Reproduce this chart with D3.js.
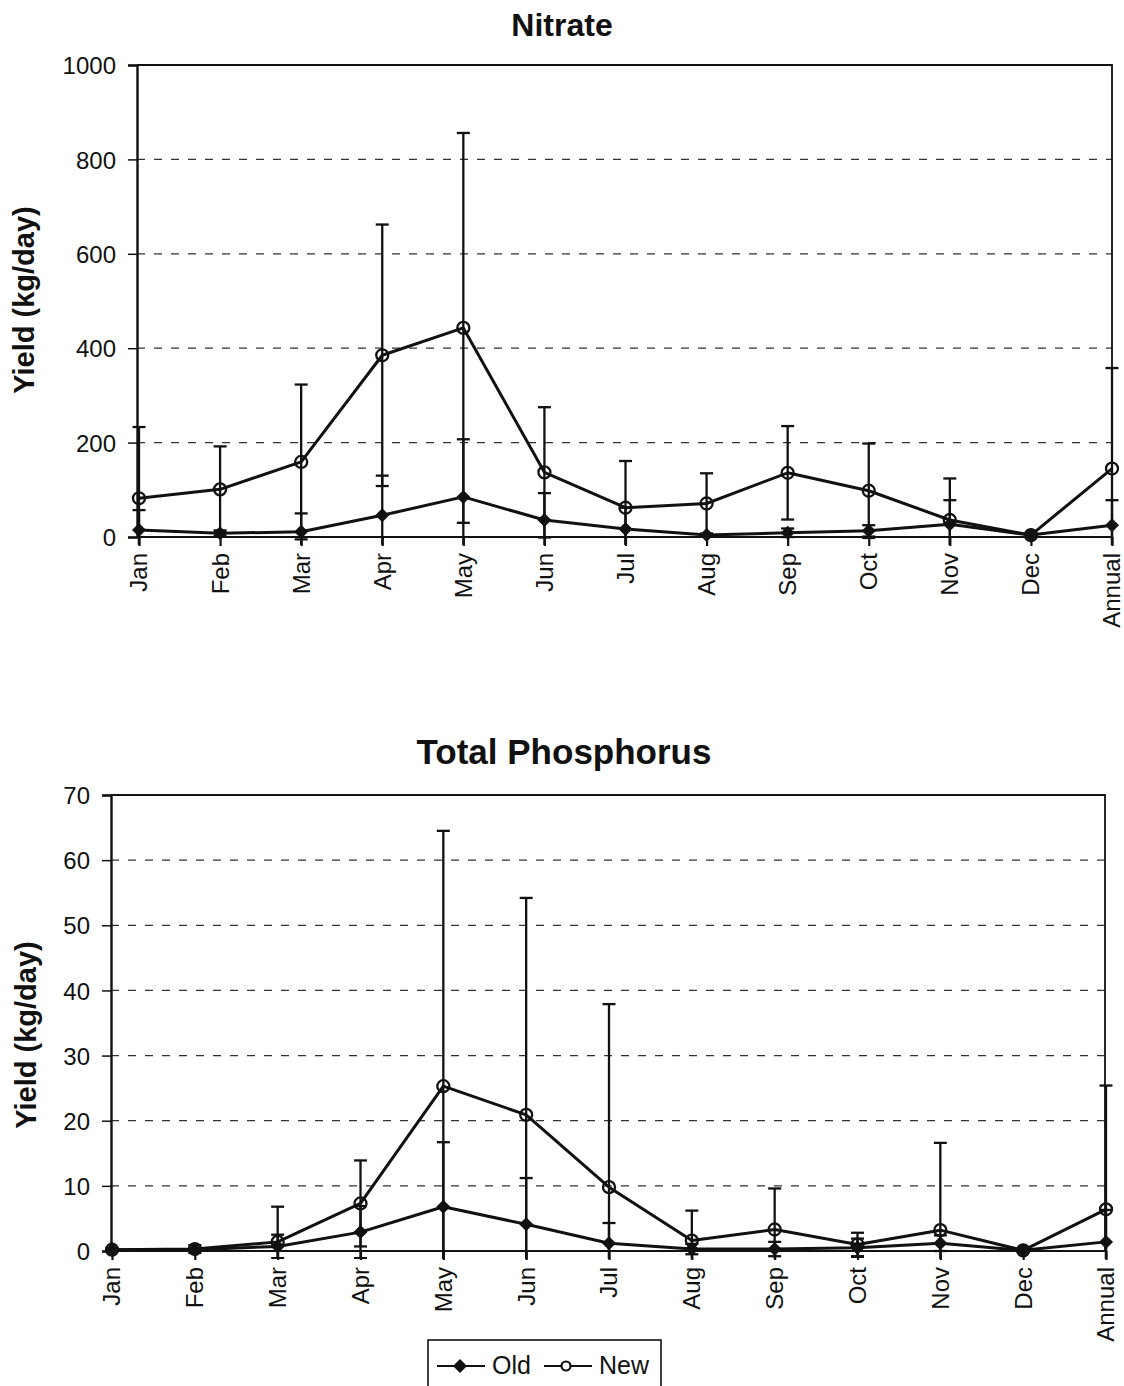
<!DOCTYPE html>
<html>
<head>
<meta charset="utf-8">
<title>Nitrate and Total Phosphorus yields</title>
<script src="https://cdn.jsdelivr.net/npm/d3@7"></script>
<style>
    html, body { margin: 0; padding: 0; background: #fff; }
    svg { display: block; font-family: "Liberation Sans", Arial, sans-serif; }
</style>
</head>
<body>
<svg id="chart" width="1124" height="1386"></svg>
<script>
/*global d3*/

// categories shared by both panels
var months = ["Jan", "Feb", "Mar", "Apr", "May", "Jun", "Jul", "Aug", "Sep", "Oct", "Nov", "Dec", "Annual"];

// Nitrate yield (kg/day), mean and error-bar half width
var nitrateOld = [15, 8, 11, 46, 85, 36, 17, 4, 9, 13, 27, 4, 25];
var nitrateOldErr = [42, 6, 39, 84, 122, 57, 45, 3, 9, 12, 51, 3, 53];
var nitrateNew = [82, 101, 159, 385, 443, 137, 62, 71, 136, 98, 36, 4, 145];
var nitrateNewErr = [151, 91, 164, 277, 413, 138, 99, 64, 99, 100, 88, 4, 213];
var nitrateTicks = [0, 200, 400, 600, 800, 1000];

// Total phosphorus yield (kg/day), mean and error-bar half width
var phosOld = [0.2, 0.2, 0.7, 2.9, 6.8, 4.1, 1.2, 0.3, 0.3, 0.5, 1.2, 0.1, 1.4];
var phosOldErr = [0.1, 0.2, 1.8, 4.0, 9.9, 7.1, 3.1, 0.8, 1.1, 1.4, 1.2, 0.1, 4.9];
var phosNew = [0.2, 0.3, 1.4, 7.3, 25.3, 20.9, 9.8, 1.6, 3.3, 1.0, 3.2, 0.1, 6.4];
var phosNewErr = [0.2, 0.6, 5.4, 6.6, 39.2, 33.3, 28.1, 4.6, 6.3, 1.8, 13.4, 0.2, 19.0];
var phosTicks = [0, 10, 20, 30, 40, 50, 60, 70];

function runYieldCharts() {

    'use strict';

    var svg = d3.select("#chart"),
        ink = "#111";

    svg.append("rect").attr("width", 1124).attr("height", 1386).attr("fill", "#fff");

    /**
      * Draw one panel: frame, grid, axes, error bars, the two series.
      * @param {object} p Panel layout and data.
      */
    function drawPanel(p) {
        var g = svg.append("g"),
            x = d3.scalePoint().domain(months).range([p.x0, p.x1]),
            y = d3.scaleLinear().domain([0, p.ticks[p.ticks.length - 1]]).range([p.bottom, p.top]),
            clipId = "clip-" + p.id,
            plot,
            line = d3.line().x(function (d) { return x(d.m); }).y(function (d) { return y(d.v); });

        g.append("defs").append("clipPath").attr("id", clipId)
            .append("rect")
            .attr("x", p.left - 10).attr("y", p.top - 2)
            .attr("width", p.right - p.left + 20).attr("height", p.bottom - p.top + 10);

        // title
        g.append("text")
            .attr("x", p.titleX).attr("y", p.titleY)
            .attr("text-anchor", "middle")
            .style("font-weight", "bold").style("font-size", p.titleSize + "px")
            .attr("fill", ink)
            .text(p.title);

        // y axis title
        g.append("text")
            .attr("transform", "translate(" + p.yTitleX + "," + p.yTitleY + ") rotate(-90)")
            .attr("text-anchor", "middle")
            .style("font-weight", "bold").style("font-size", "29px")
            .attr("fill", ink)
            .text("Yield (kg/day)");

        // dashed gridlines
        g.selectAll(".grid")
            .data(p.ticks.slice(1, -1))
            .enter().append("line")
            .attr("x1", p.left).attr("x2", p.right)
            .attr("y1", function (d) { return y(d); }).attr("y2", function (d) { return y(d); })
            .attr("stroke", "#333").attr("stroke-width", 1.3)
            .attr("stroke-dasharray", "8,9");

        // frame: top and right border
        g.append("path")
            .attr("d", "M" + p.left + "," + p.top + "H" + p.right + "V" + p.bottom)
            .attr("fill", "none").attr("stroke", ink).attr("stroke-width", 1.8);

        // y axis
        g.append("g")
            .attr("transform", "translate(" + p.left + ",0)")
            .call(d3.axisLeft(y).tickValues(p.ticks).tickSize(9).tickPadding(12).tickFormat(d3.format("d")))
            .call(function (a) {
                a.select(".domain").attr("stroke", ink).attr("stroke-width", 2.4);
                a.selectAll(".tick line").attr("stroke", ink).attr("stroke-width", 1.5);
                a.selectAll("text").style("font-size", "24px").attr("fill", ink).attr("dy", "0.36em");
            });

        // x axis
        g.append("g")
            .attr("transform", "translate(0," + p.bottom + ")")
            .call(d3.axisBottom(x).tickSize(9).tickSizeOuter(0))
            .call(function (a) {
                a.select(".domain").attr("d", "M" + p.left + ",0H" + p.right)
                    .attr("stroke", ink).attr("stroke-width", 2.2);
                a.selectAll(".tick line").attr("stroke", ink).attr("stroke-width", 2.2);
                a.selectAll("text")
                    .style("font-size", "24px").attr("fill", ink)
                    .attr("text-anchor", "end")
                    .attr("transform", "rotate(-90)")
                    .attr("x", -16).attr("y", 0).attr("dy", "0.33em");
            });

        plot = g.append("g").attr("clip-path", "url(#" + clipId + ")");

        p.series.forEach(function (s) {
            var pts = months.map(function (m, i) {
                    return {m: m, v: s.values[i], hi: s.values[i] + s.err[i], lo: s.values[i] - s.err[i]};
                }),
                eb = plot.append("g").attr("stroke", ink).attr("stroke-width", 2.3);

            // error bars
            eb.selectAll(".bar").data(pts).enter().append("line")
                .attr("x1", function (d) { return x(d.m); }).attr("x2", function (d) { return x(d.m); })
                .attr("y1", function (d) { return y(d.hi); }).attr("y2", function (d) { return y(d.lo); });
            eb.selectAll(".capHi").data(pts).enter().append("line")
                .attr("x1", function (d) { return x(d.m) - 6.5; }).attr("x2", function (d) { return x(d.m) + 6.5; })
                .attr("y1", function (d) { return y(d.hi); }).attr("y2", function (d) { return y(d.hi); });
            eb.selectAll(".capLo").data(pts).enter().append("line")
                .attr("x1", function (d) { return x(d.m) - 6.5; }).attr("x2", function (d) { return x(d.m) + 6.5; })
                .attr("y1", function (d) { return y(d.lo); }).attr("y2", function (d) { return y(d.lo); });

            s.pts = pts;
        });

        p.series.forEach(function (s) {
            g.append("path")
                .datum(s.pts)
                .attr("d", line)
                .attr("fill", "none").attr("stroke", ink).attr("stroke-width", 3)
                .attr("stroke-linejoin", "round");
        });

        p.series.forEach(function (s) {
            var mk = g.append("g");
            if (s.marker === "diamond") {
                mk.selectAll("path").data(s.pts).enter().append("path")
                    .attr("transform", function (d) { return "translate(" + x(d.m) + "," + y(d.v) + ")"; })
                    .attr("d", "M0,-7L7,0L0,7L-7,0Z")
                    .attr("fill", ink);
            } else {
                mk.selectAll("circle").data(s.pts).enter().append("circle")
                    .attr("cx", function (d) { return x(d.m); })
                    .attr("cy", function (d) { return y(d.v); })
                    .attr("r", 6)
                    .attr("fill", "none").attr("stroke", ink).attr("stroke-width", 2.3);
            }
        });
    }

    /**
      * Legend box below the lower panel.
      */
    function drawLegend() {
        var lg = svg.append("g");
        lg.append("rect")
            .attr("x", 428).attr("y", 1340).attr("width", 233).attr("height", 70)
            .attr("fill", "#fff").attr("stroke", ink).attr("stroke-width", 1.6);
        lg.append("line").attr("x1", 437).attr("x2", 485).attr("y1", 1366).attr("y2", 1366)
            .attr("stroke", ink).attr("stroke-width", 2.2);
        lg.append("path").attr("d", "M460,1359L467,1366L460,1373L453,1366Z").attr("fill", ink);
        lg.append("text").attr("x", 492).attr("y", 1374).style("font-size", "25px").attr("fill", ink).text("Old");
        lg.append("line").attr("x1", 544).attr("x2", 592).attr("y1", 1366).attr("y2", 1366)
            .attr("stroke", ink).attr("stroke-width", 2.2);
        lg.append("circle").attr("cx", 566).attr("cy", 1366).attr("r", 4.5)
            .attr("fill", "#fff").attr("stroke", ink).attr("stroke-width", 2.2);
        lg.append("text").attr("x", 599).attr("y", 1374).style("font-size", "25px").attr("fill", ink).text("New");
    }

    drawPanel({
        id: "nitrate", title: "Nitrate", titleX: 562, titleY: 36, titleSize: 32,
        yTitleX: 34, yTitleY: 300,
        left: 137, right: 1112, top: 65, bottom: 537, x0: 139, x1: 1112,
        ticks: nitrateTicks,
        series: [
            {values: nitrateNew, err: nitrateNewErr, marker: "circle"},
            {values: nitrateOld, err: nitrateOldErr, marker: "diamond"}
        ]
    });

    drawPanel({
        id: "phos", title: "Total Phosphorus", titleX: 564, titleY: 764, titleSize: 35,
        yTitleX: 36, yTitleY: 1035,
        left: 111, right: 1105, top: 795, bottom: 1251, x0: 112, x1: 1106,
        ticks: phosTicks,
        series: [
            {values: phosNew, err: phosNewErr, marker: "circle"},
            {values: phosOld, err: phosOldErr, marker: "diamond"}
        ]
    });

    drawLegend();
}

runYieldCharts();
</script>
</body>
</html>
